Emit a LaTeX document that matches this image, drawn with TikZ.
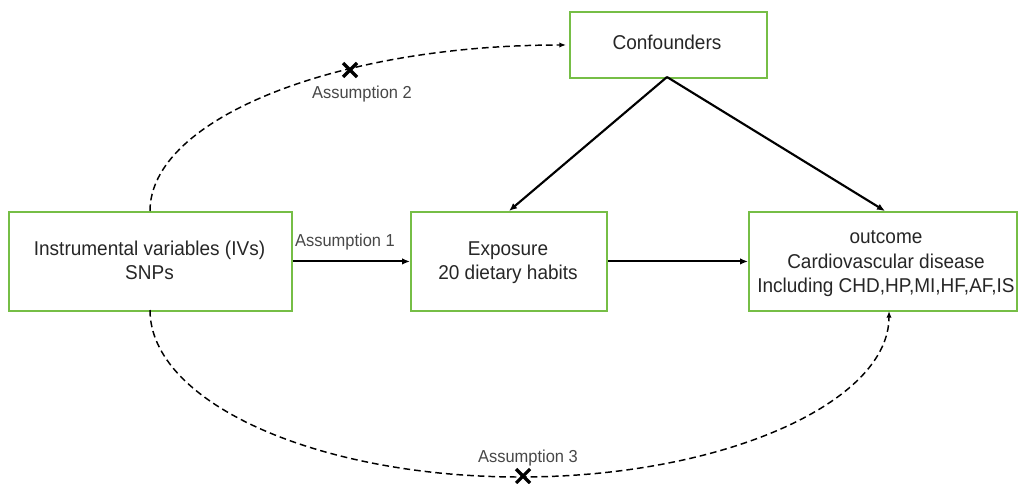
\documentclass[tikz,border=0pt]{standalone}
\usepackage{fontspec}
\setmainfont[FakeStretch=0.95]{Liberation Sans}
\usetikzlibrary{arrows.meta,calc}
\definecolor{boxgreen}{RGB}{118,190,70}
\tikzset{
  gbox/.style={draw=boxgreen, line width=1.4pt, inner sep=0pt, anchor=north west},
  solidarr/.style={line width=1.6pt, -{Latex[length=6pt,width=5pt]}},
  dasharr/.style={line width=1.1pt, dash pattern=on 5pt off 3pt, -{Latex[length=5pt,width=4pt]}},
  lbl/.style={font=\fontsize{13}{15}\selectfont, text=black!72, anchor=base, inner sep=0pt},
  txt/.style={font=\fontsize{15}{18}\selectfont, text=black!85, anchor=base, inner sep=0pt},
  xmark/.style={line width=2.4pt}
}
\begin{document}
\begin{tikzpicture}[x=0.75pt,y=-0.75pt]
\useasboundingbox (0,0) rectangle (1019,484);
% boxes
\node[gbox, minimum width=283*0.75pt, minimum height=99*0.75pt] (iv) at (8,211) {};
\node[gbox, minimum width=196*0.75pt, minimum height=99*0.75pt] (ex) at (410,211) {};
\node[gbox, minimum width=268*0.75pt, minimum height=99*0.75pt] (out) at (748,211) {};
\node[gbox, minimum width=197*0.75pt, minimum height=66*0.75pt] (conf) at (569,11) {};
% texts
\node[txt] (ivt) at (149.5,256) {Instrumental variables (IVs)};
\node[txt] (ivs) at (149.5,279) {SNPs};
\node[txt] (ext) at (508,256) {Exposure};
\node[txt] (exs) at (508,279) {20 dietary habits};
\node[txt] (outt) at (886,244) {outcome};
\node[txt] (outs) at (886,268) {Cardiovascular disease};
\node[txt] (outi) at (886,292) {Including CHD,HP,MI,HF,AF,IS};
\node[txt] (conft) at (667,50) {Confounders};
% solid arrows
\coordinate (cb) at (667,77);
\coordinate (et) at (509,211);
\coordinate (ot) at (885,211);
\draw[solidarr] (cb) -- (et);
\draw[solidarr] (cb) -- (ot);
\draw[solidarr] (iv.east) -- (ex.west);
\draw[solidarr] (ex.east) -- (out.west);
\node[lbl] (a1) at (345,247) {Assumption 1};
% dashed curves
\coordinate (ivtop) at (150,211);
\coordinate (confl) at (566,45);
\draw[dasharr] (ivtop) .. controls (150,119) and (336,45) .. (confl);
\coordinate (ivbot) at (150,310);
\coordinate (bot) at (520,477);
\coordinate (outb) at (889,311);
\draw[line width=1.1pt, dash pattern=on 5pt off 3pt] (ivbot) .. controls (150,402) and (316,477) .. (bot);
\draw[dasharr] (bot) .. controls (724,477) and (889,402) .. (outb);
% X marks
\coordinate (x2) at (350,70);
\coordinate (x3) at (523,476);
\draw[xmark] ($(x2)+(-7,-7)$) -- ($(x2)+(7,7)$) ($(x2)+(-7,7)$) -- ($(x2)+(7,-7)$);
\draw[xmark] ($(x3)+(-7,-7)$) -- ($(x3)+(7,7)$) ($(x3)+(-7,7)$) -- ($(x3)+(7,-7)$);
\node[lbl] (a2) at (362,99) {Assumption 2};
\node[lbl] (a3) at (528,462) {Assumption 3};
\end{tikzpicture}
\end{document}
